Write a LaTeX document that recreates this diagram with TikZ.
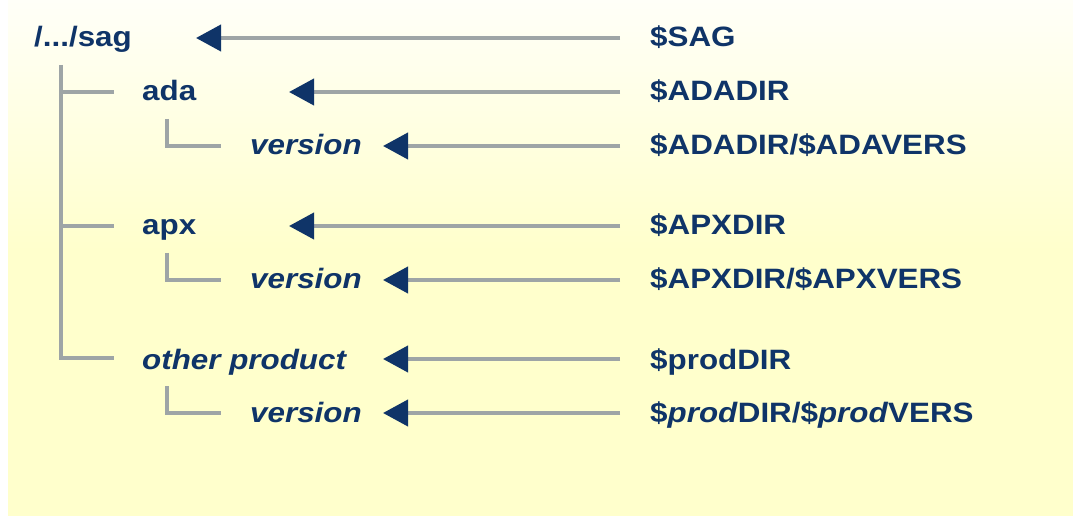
\documentclass[tikz,border=0pt]{standalone}
\usepackage{fontspec}
\setmainfont{Liberation Sans}[FakeStretch=1.12]
\usetikzlibrary{arrows.meta}
\definecolor{navy}{HTML}{0F3468}
\definecolor{treegray}{HTML}{9EA5A6}
\definecolor{bgtop}{HTML}{FFFFF8}
\definecolor{bgyel}{HTML}{FFFFCC}
\tikzset{
  lbl/.style={anchor=base west, inner sep=0pt, text=navy, font=\fontsize{28}{30}\selectfont\bfseries},
  ilbl/.style={lbl, font=\fontsize{28}{30}\selectfont\bfseries\itshape},
  treeline/.style={draw=treegray, line width=4pt},
  ptr/.style={draw=treegray, line width=4pt, -{Triangle[length=25pt,width=26pt,color=navy,fill=navy]}}
}
\begin{document}
\begin{tikzpicture}[x=1pt,y=-1pt]
\useasboundingbox (0,0) rectangle (1073,518);
% background
\shade[top color=bgtop, bottom color=bgyel] (8,0) rectangle (1073,250);
\fill[bgyel] (8,249.5) rectangle (1073,516);
% left labels
\node[lbl]  (sag)  at (34,47)  {/.../sag};
\node[lbl]  (ada)  at (142,101) {ada};
\node[ilbl] (adav) at (250,155) {version};
\node[lbl]  (apx)  at (142,235) {apx};
\node[ilbl] (apxv) at (250,289) {version};
\node[ilbl] (oth)  at (142,369) {other product};
\node[ilbl] (othv) at (250,422) {version};
% right labels
\node[lbl] (rsag)  at (650,47)  {\$SAG};
\node[lbl] (rada)  at (650,101) {\$ADADIR};
\node[lbl] (radav) at (650,155) {\$ADADIR/\$ADAVERS};
\node[lbl] (rapx)  at (650,235) {\$APXDIR};
\node[lbl] (rapxv) at (650,289) {\$APXDIR/\$APXVERS};
\node[lbl] (roth)  at (650,369) {\$prodDIR};
\node[lbl] (rothv) at (650,422) {\$\textit{prod}DIR/\$\textit{prod}VERS};
% arrow tips
\coordinate (tsag)  at (196,38);
\coordinate (tada)  at (289,92);
\coordinate (tadav) at (383,146);
\coordinate (tapx)  at (289,226);
\coordinate (tapxv) at (383,280);
\coordinate (toth)  at (383,359);
\coordinate (tothv) at (383,413);
\foreach \r/\t in {rsag/tsag, rada/tada, radav/tadav, rapx/tapx, rapxv/tapxv, roth/toth, rothv/tothv}
  \draw[ptr] ([xshift=-30pt]\r.west |- \t) -- (\t);
% tree lines
\coordinate (sagdown) at (61,65);
\coordinate (sagend)  at (61,358);
\draw[treeline] (sagdown) -- (sagend) -- ([xshift=-28pt]oth.west |- sagend);
\draw[treeline] (61,92) -- ([xshift=-28pt]ada.west |- tada);
\draw[treeline] (61,226) -- ([xshift=-28pt]apx.west |- tapx);
\draw[treeline] (167,119) -- (167,146) -- ([xshift=-29pt]adav.west |- tadav);
\draw[treeline] (167,253) -- (167,280) -- ([xshift=-29pt]apxv.west |- tapxv);
\draw[treeline] (167,386) -- (167,413) -- ([xshift=-29pt]othv.west |- tothv);
\end{tikzpicture}
\end{document}
